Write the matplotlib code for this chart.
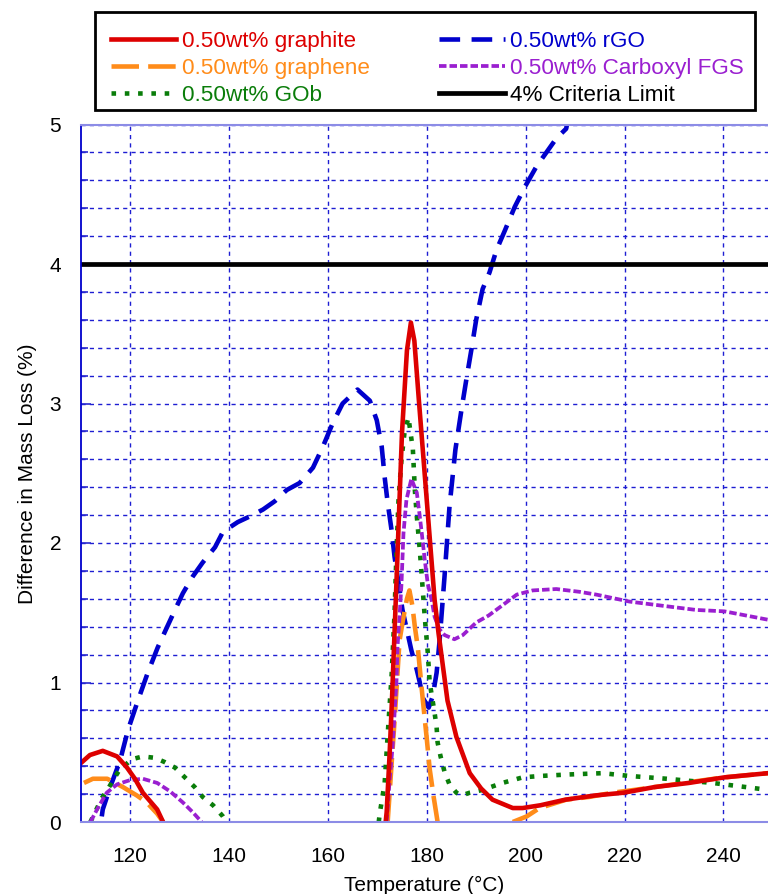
import numpy as np
import matplotlib
matplotlib.use("Agg")
import matplotlib.pyplot as plt
from matplotlib.ticker import MultipleLocator
from matplotlib.patches import Rectangle

plt.rcParams['font.family'] = ['Liberation Sans', 'DejaVu Sans']

nan = np.nan

# ---- data ----
graphite_T = [110, 111.9, 114.5, 117.4, 119.4, 121, 122.6, 125.5, 126.7, nan,
              171.7, 171.9, 172.5, 173, 174, 175, 176, 176.8, 177.5, 178.4, 180, 181.6,
              182.4, 184.2, 186, 188.7, 191, 193.3, 197.4, 199.4, 203, 208, 214, 219.8,
              226, 233, 240.2, 249]
graphite_V = [0.42, 0.48, 0.51, 0.47, 0.39, 0.31, 0.21, 0.09, 0.0, nan,
              0.0, 0.07, 0.49, 0.9, 1.83, 2.79, 3.38, 3.58, 3.45, 3.03, 2.31, 1.59,
              1.35, 0.87, 0.61, 0.35, 0.24, 0.16, 0.10, 0.10, 0.12, 0.16, 0.19, 0.21,
              0.25, 0.28, 0.32, 0.35]

graphene_T = [110.7, 112.5, 115.4, 118.6, 121.4, 123.4, 125.5, 126.7, nan,
              172.1, 173.5, 174.5, 175.2, 176.0, 176.5, 177.1, 177.6, 178.2, 179.0,
              180.0, 180.6, 181.4, 182.2, nan,
              197.4, 200.2, 202.8, 208.2, 212.9, 217.6, 222, 228, 234, 240.2, 249]
graphene_V = [0.28, 0.31, 0.31, 0.25, 0.19, 0.14, 0.06, 0.0, nan,
              0.0, 0.73, 1.3, 1.45, 1.6, 1.66, 1.55, 1.4, 1.25, 0.95,
              0.6, 0.38, 0.18, 0.0, nan,
              0.0, 0.04, 0.10, 0.16, 0.18, 0.21, 0.23, 0.26, 0.29, 0.32, 0.35]

gob_T = [112, 114.3, 115.6, 117.8, 120.4, 122.6, 125, 127, 129.1, 131.1, 133.1, 134.7,
         136.8, 138.8, 139.5, nan,
         170.3, 170.5, 171.5, 172.1, 172.9, 173.5, 173.9, 174.3, 174.9, 175.5, 176.3,
         177.2, 177.6, 178, 178.6, 179, 179.6, 180.2, 180.6, 181.6, 182, 182.2, 182.8,
         183.6, 184.6, 186, 187, 188.7, 191.3, 195.3, 199.4, 203, 208.2, 215.5, 221,
         228.5, 237.8, 244.6, 249]
gob_V = [0, 0.17, 0.24, 0.37, 0.45, 0.47, 0.46, 0.43, 0.39, 0.32, 0.25, 0.18,
         0.12, 0.04, 0, nan,
         0, 0.06, 0.28, 0.62, 1.05, 1.5, 1.95, 2.31, 2.6, 2.79, 2.9,
         2.67, 2.38, 2.19, 1.95, 1.76, 1.47, 1.22, 1.0, 0.78, 0.68, 0.57, 0.47,
         0.36, 0.27, 0.21, 0.19, 0.21, 0.23, 0.28, 0.32, 0.33, 0.34, 0.35, 0.33,
         0.31, 0.28, 0.25, 0.23]

rgo_T = [114.3, 114.5, 116, 118, 119.6, 121.6, 123.6, 125.6, 127.4, 129.1, 130.7, 132.7,
         134.7, 137.2, 138.8, 141.8, 144.2, 146.9, 149.3, 151.7, 154.3, 157, 159, 161,
         163, 166, 168.5, 169.9, 170.9, 171.5, 172.1, 172.9, 173.5, 174.1, 175.1, 176.9,
         178, 178.6, 179.2, 180.4, 181.2, 182, 182.6, 183.6, 184.6, 185.8, 187, 188,
         189, 190, 191.3, 192.7, 194.1, 195.8, 197.8, 199.8, 202.2, 204.2, 206.2,
         208.2, 208.6]
rgo_V = [0.04, 0.09, 0.25, 0.44, 0.66, 0.87, 1.07, 1.25, 1.39, 1.52, 1.64, 1.76,
         1.86, 1.97, 2.08, 2.15, 2.19, 2.24, 2.3, 2.38, 2.43, 2.54, 2.69, 2.86,
         3.0, 3.1, 3.02, 2.88, 2.69, 2.47, 2.29, 2.09, 1.9, 1.76, 1.52, 1.23,
         1.09, 1.0, 0.89, 0.82, 0.9, 1.07, 1.3, 1.76, 2.26, 2.67, 2.95, 3.17,
         3.38, 3.6, 3.82, 3.94, 4.1, 4.24, 4.41, 4.55, 4.7, 4.8, 4.9,
         4.97, 5.05]

fgs_T = [112, 113.5, 115.3, 117.4, 120, 122.6, 125.5, 128.1, 130.7, 132.7, 134.5, nan,
         171.9, 172.5, 173.1, 173.5, 173.9, 174.1, 174.5, 174.9, 175.3, 175.9, 176.9,
         178, 178.6, 179, 179.6, 180.2, 181, 181.6, 182.6, 183.6, 185.6, 187.3, 190,
         192.5, 194.8, 198.2, 201.4, 206.2, 210.9, 214.3, 221, 227.7, 234.5, 240.2,
         244.6, 249]
fgs_V = [0, 0.1, 0.21, 0.27, 0.3, 0.31, 0.28, 0.22, 0.14, 0.07, 0, nan,
         0, 0.3, 0.54, 0.78, 1.02, 1.26, 1.47, 1.71, 2.07, 2.31, 2.46,
         2.36, 2.19, 2.07, 1.88, 1.71, 1.59, 1.47, 1.38, 1.34, 1.31, 1.34, 1.43,
         1.48, 1.54, 1.63, 1.66, 1.67, 1.65, 1.63, 1.58, 1.55, 1.52, 1.51,
         1.48, 1.45]

limit_value = 4.0
x_range = (110, 249)

labels = ["0.50wt% graphite", "0.50wt% graphene", "0.50wt% GOb",
          "0.50wt% rGO", "0.50wt% Carboxyl FGS", "4% Criteria Limit"]
colors = ["#dd0000", "#ff8c1a", "#0a7d0a", "#0000cc", "#9a1fd0", "#000000"]

# ---- figure ----
W, H = 768, 894
fig = plt.figure(figsize=(W / 100, H / 100), dpi=100)
ax = fig.add_axes([80.5 / W, 1 - 822 / H, 1 - 80.5 / W, (822 - 124.5) / H])

grid_c = "#1e1ed2"
ax.set_xlim(*x_range)
ax.set_ylim(0, 5)
ax.xaxis.set_major_locator(MultipleLocator(20))
ax.yaxis.set_major_locator(MultipleLocator(1))
ax.yaxis.set_minor_locator(MultipleLocator(0.2))
ax.grid(True, which='major', axis='x', color=grid_c, linestyle=(0, (3, 3)), linewidth=1.0)
ax.grid(True, which='both', axis='y', color=grid_c, linestyle=(0, (3, 3)), linewidth=1.0)
ax.set_axisbelow(True)

lw = 3.3
h_rgo, = ax.plot(rgo_T, rgo_V, color=colors[3], lw=lw, linestyle=(0, (4.5, 2.5)),
                 dash_capstyle='butt', label=labels[3])
h_gra, = ax.plot(graphene_T, graphene_V, color=colors[1], lw=lw, linestyle=(0, (6, 2)),
                 dash_capstyle='butt', label=labels[1])
h_gob, = ax.plot(gob_T, gob_V, color=colors[2], lw=lw, linestyle=(0, (1, 1.9)),
                 dash_capstyle='butt', label=labels[2])
h_fgs, = ax.plot(fgs_T, fgs_V, color=colors[4], lw=2.7, linestyle=(0, (2, 0.8)),
                 dash_capstyle='butt', label=labels[4])
h_gph, = ax.plot(graphite_T, graphite_V, color=colors[0], lw=lw, linestyle='-',
                 label=labels[0])
h_lim = ax.axhline(limit_value, color=colors[5], lw=3.4, label=labels[5])

for s in ['top', 'bottom']:
    ax.spines[s].set_color('#8c8ce6')
    ax.spines[s].set_linewidth(1.5)
ax.spines['left'].set_color('#0000cc')
ax.spines['left'].set_linewidth(1.3)
ax.spines['right'].set_visible(False)

ax.tick_params(axis='y', which='major', direction='in', length=7, width=1.2,
               color='#2a2ad0', labelsize=15, pad=14, labelcolor='black')
ax.tick_params(axis='y', which='minor', direction='in', length=5, width=1.2,
               color='#2a2ad0')
ax.tick_params(axis='x', which='both', length=0, labelsize=15, pad=18)

ax.set_xlabel("Temperature (°C)", fontsize=15, labelpad=7)
ax.set_ylabel("Difference in Mass Loss (%)", fontsize=15, labelpad=9)

# legend box (frame drawn separately so padding can match the reference)
box = Rectangle((95 / W, 1 - 110 / H), 660 / W, 98 / H, transform=fig.transFigure,
                facecolor='white', edgecolor='black', linewidth=2, zorder=5)
fig.add_artist(box)

handles = [h_gph, h_gra, h_gob, h_rgo, h_fgs, h_lim]
leg = fig.legend(handles, labels, ncol=2, loc='upper left',
                 bbox_to_anchor=(111 / W, 1 - 31 / H),
                 fontsize=16.2, frameon=False,
                 handlelength=2.9, handletextpad=0.24,
                 labelspacing=0.27, borderpad=0, borderaxespad=0,
                 columnspacing=3.1)
leg.set_zorder(6)
for t, c in zip(leg.get_texts(), colors):
    t.set_color(c)

fig.savefig("out.png", dpi=100)
